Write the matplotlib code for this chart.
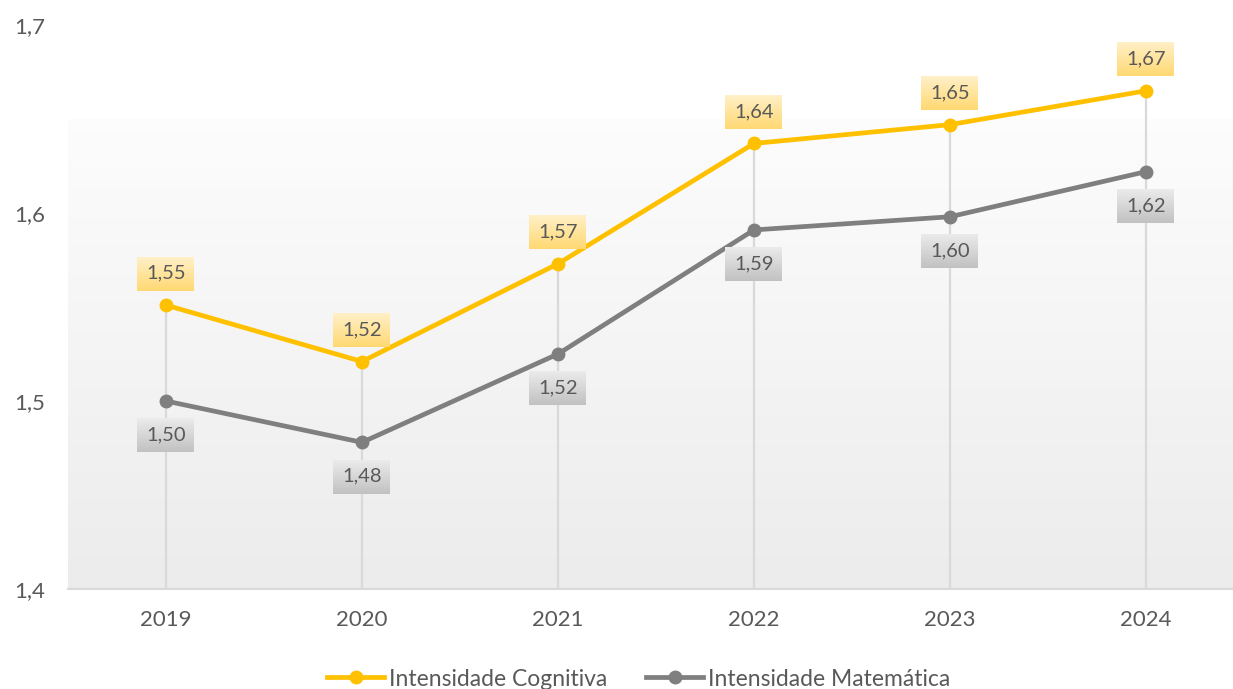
import matplotlib.pyplot as plt
import numpy as np

# data
anos = ["2019", "2020", "2021", "2022", "2023", "2024"]
cognitiva = [1.551, 1.521, 1.573, 1.637, 1.647, 1.665]
matematica = [1.500, 1.478, 1.525, 1.591, 1.598, 1.622]
rot_cog = ["1,55", "1,52", "1,57", "1,64", "1,65", "1,67"]
rot_mat = ["1,50", "1,48", "1,52", "1,59", "1,60", "1,62"]
yticks = [1.4, 1.5, 1.6, 1.7]
ytick_labels = ["1,4", "1,5", "1,6", "1,7"]

AMARELO = "#FFC000"
CINZA = "#7F7F7F"
TEXTO = "#595959"

plt.rcParams['font.family'] = ['Lato', 'DejaVu Sans']

W, H = 1233, 689
fig = plt.figure(figsize=(W / 100, H / 100), dpi=100)
ax = fig.add_axes([68 / W, 100 / H, 1176 / W, 564 / H])

x = np.arange(len(anos))
ax.set_xlim(-0.5, len(anos) - 0.5)
ax.set_ylim(1.4, 1.7)

# fundo em degradê da área de plotagem
grad = np.linspace(0, 1, 256).reshape(-1, 1)
c_top = np.array([0.99, 0.99, 0.99])
c_bot = np.array([0.925, 0.925, 0.925])
img = c_top + (c_bot - c_top) * grad[..., None]
ax.imshow(img, extent=[-0.5, len(anos) - 0.5, 1.4, 1.65], aspect='auto',
          origin='upper', zorder=0)

# linhas de projeção
for xi, top in zip(x, cognitiva):
    ax.plot([xi, xi], [1.4, top], color="#d9d9d9", lw=1.6, zorder=1)

ax.plot(x, cognitiva, color=AMARELO, lw=3.4, marker='o', ms=9,
        label="Intensidade Cognitiva", zorder=3)
ax.plot(x, matematica, color=CINZA, lw=3.4, marker='o', ms=9,
        label="Intensidade Matemática", zorder=3)

for s in ['top', 'right', 'left']:
    ax.spines[s].set_visible(False)
ax.spines['bottom'].set_color("#d9d9d9")
ax.spines['bottom'].set_linewidth(1.5)

ax.set_xticks(x)
ax.set_xticklabels(anos, fontsize=16, color=TEXTO)
ax.set_yticks(yticks)
ax.set_yticklabels(ytick_labels, fontsize=16, color=TEXTO)
ax.tick_params(axis='both', length=0)
ax.tick_params(axis='x', pad=15)
ax.tick_params(axis='y', pad=16.5)

# rótulos de dados com caixas em degradê
bw, bh = 57, 34


def caixa(cx, cy, c1, c2, texto):
    g = np.linspace(0, 1, bh).reshape(-1, 1, 1)
    arr = np.array(c1) + (np.array(c2) - np.array(c1)) * g
    arr = np.repeat(arr, bw, axis=1)
    fig.figimage(arr[::-1], xo=int(cx - bw / 2), yo=int(cy - bh / 2), zorder=4,
                 origin='lower')
    fig.text(cx / W, cy / H, texto, ha='center', va='center', fontsize=14.5,
             color=TEXTO, zorder=5)


yel1, yel2 = (1.0, 0.94, 0.78), (1.0, 0.85, 0.45)
gr1, gr2 = (0.92, 0.92, 0.92), (0.76, 0.76, 0.76)
for xi, v, t in zip(x, cognitiva, rot_cog):
    px, py = ax.transData.transform((xi, v))
    caixa(px, py + 32, yel1, yel2, t)
for xi, v, t in zip(x, matematica, rot_mat):
    px, py = ax.transData.transform((xi, v))
    caixa(px, py - 34, gr1, gr2, t)

fig.legend(loc='center', bbox_to_anchor=(0.518, 10 / H), ncol=2, frameon=False,
           fontsize=16.5, labelcolor=TEXTO, handlelength=2.5, handletextpad=0.2,
           columnspacing=1.7)

fig.savefig("out.png", dpi=100)
